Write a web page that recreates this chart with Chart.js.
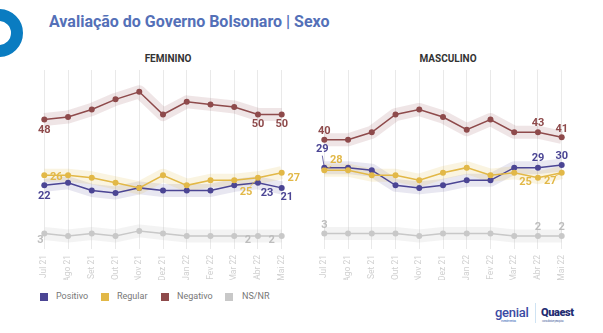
<!DOCTYPE html>
<html>
<head>
<meta charset="utf-8">
<script src="https://cdn.jsdelivr.net/npm/chart.js@4"></script>
<style>
  body { margin: 0; width: 603px; height: 333px; background: #fff; position: relative; overflow: hidden; font-family: Roboto, "Noto Sans", sans-serif; }
  .ring { position: absolute; left: -25px; top: 9px; width: 24px; height: 24px; border: 12px solid #0a7cc1; border-radius: 50%; }
  .title { position: absolute; left: 49px; top: 12px; font-size: 16px; font-weight: bold; color: #5470b8; white-space: nowrap; }
  .panel-title { position: absolute; top: 53px; width: 120px; text-align: center; font-size: 10px; font-weight: bold; color: #333; }
  .box { position: absolute; top: 60px; width: 285px; height: 220px; }
  .legend { position: absolute; top: 291px; left: 40px; font-size: 9px; color: #777; }
  .legend span { position: absolute; white-space: nowrap; top: 0; }
  .legend i { position: absolute; width: 8px; height: 8px; top: 2px; }
  .logo1 { position: absolute; left: 495px; top: 305px; color: #3b4aa3; font-size: 13px; font-weight: 500; letter-spacing: -0.3px; }
  .logo1 small { position: absolute; left: 6px; top: 14px; font-size: 3px; font-weight: normal; color: #4a74c0; white-space: nowrap; }
  .sep { position: absolute; left: 535px; top: 303px; width: 1px; height: 20px; background: #cfe3f3; }
  .logo2 { position: absolute; left: 541px; top: 306px; color: #1f2d72; font-size: 11px; font-weight: 900; letter-spacing: -0.4px; }
  .logo2 small { position: absolute; left: 1px; top: 13px; font-size: 3px; font-weight: normal; color: #6a7fb0; white-space: nowrap; }
</style>
</head>
<body>
<div class="ring"></div>
<div class="title">Avaliação do Governo Bolsonaro | Sexo</div>
<div class="panel-title" style="left:108px">FEMININO</div>
<div class="panel-title" style="left:388px">MASCULINO</div>
<div class="box" style="left:20px"><canvas id="fem"></canvas></div>
<div class="box" style="left:300px"><canvas id="masc"></canvas></div>
<div class="legend">
  <i style="left:0;background:#4b4594"></i><span style="left:16px">Positivo</span>
  <i style="left:61px;background:#e2b847"></i><span style="left:77px">Regular</span>
  <i style="left:121px;background:#8e4a4b"></i><span style="left:137px">Negativo</span>
  <i style="left:185px;background:#c8c8c8"></i><span style="left:202px">NS/NR</span>
</div>
<div class="logo1">genial<small>investimentos</small></div>
<div class="sep"></div>
<div class="logo2">Quaest<small>consultoria e pesquisa</small></div>
<script>
const meses = ["Jul 21", "Ago 21", "Set 21", "Out 21", "Nov 21", "Dez 21", "Jan 22", "Fev 22", "Mar 22", "Abr 22", "Mai 22"];

// Feminino
const femPositivo = [22, 23, 20, 19, 21, 20, 20, 20, 22, 23, 21];
const femRegular  = [26, 26, 25, 23, 21, 26, 22, 24, 24, 25, 27];
const femNegativo = [48, 49, 52, 56, 59, 50, 55, 54, 53, 50, 50];
const femNsnr     = [3, 2, 3, 2, 4, 3, 2, 2, 2, 2, 2];

// Masculino
const mascPositivo = [29, 29, 28, 22, 21, 22, 24, 24, 29, 29, 30];
const mascRegular  = [28, 28, 26, 26, 24, 27, 29, 26, 27, 25, 27];
const mascNegativo = [40, 40, 43, 50, 52, 49, 44, 48, 43, 43, 41];
const mascNsnr     = [3, 3, 3, 3, 2, 3, 3, 3, 2, 2, 2];

const cores = {
    positivo: ["#4b4594", "rgba(75, 69, 148, 0.13)"],
    regular: ["#e2b847", "rgba(226, 184, 71, 0.16)"],
    negativo: ["#8e4a4b", "rgba(142, 74, 75, 0.14)"],
    nsnr: ["#c8c8c8", "rgba(190, 190, 190, 0.18)"],
};

// which points carry a value label, and where it sits relative to the point
const rotulosFem = [
    { s: "negativo", i: 0, dx: 0, dy: 11 },
    { s: "negativo", i: 9, dx: 0, dy: 10 },
    { s: "negativo", i: 10, dx: 0, dy: 10 },
    { s: "regular", i: 0, dx: 12, dy: 2 },
    { s: "positivo", i: 0, dx: 0, dy: 10.5 },
    { s: "regular", i: 9, dx: -12, dy: 14, seta: true },
    { s: "positivo", i: 9, dx: 9, dy: 10 },
    { s: "positivo", i: 10, dx: 5, dy: 9 },
    { s: "regular", i: 10, dx: 12, dy: 6 },
    { s: "nsnr", i: 0, dx: -4, dy: 7 },
    { s: "nsnr", i: 9, dx: -10, dy: 4.5 },
    { s: "nsnr", i: 10, dx: -10, dy: 4.5 },
];
const rotulosMasc = [
    { s: "negativo", i: 0, dx: 0, dy: -9 },
    { s: "negativo", i: 9, dx: 0, dy: -9 },
    { s: "negativo", i: 10, dx: 0, dy: -8 },
    { s: "positivo", i: 0, dx: -2, dy: -18, seta: true },
    { s: "regular", i: 0, dx: 12, dy: -10, seta: true },
    { s: "positivo", i: 9, dx: 0, dy: -9 },
    { s: "positivo", i: 10, dx: 0, dy: -9 },
    { s: "regular", i: 9, dx: -12.5, dy: 4 },
    { s: "regular", i: 10, dx: -11.5, dy: 9, seta: true },
    { s: "nsnr", i: 0, dx: 0, dy: -8 },
    { s: "nsnr", i: 9, dx: 0, dy: -9 },
    { s: "nsnr", i: 10, dx: 0, dy: -9 },
];

const rotulosPlugin = {
    id: "rotulos",
    afterDatasetsDraw(chart, args, opts) {
        const ctx = chart.ctx;
        ctx.save();
        ctx.font = "bold 11px Roboto";
        ctx.textAlign = "center";
        ctx.textBaseline = "middle";
        opts.lista.forEach((r) => {
            const idx = chart.data.datasets.findIndex((d) => d.serie === r.s && !d.faixa);
            const ds = chart.data.datasets[idx];
            const pt = chart.getDatasetMeta(idx).data[r.i];
            const x = pt.x + r.dx, y = pt.y + r.dy;
            if (r.seta) {
                ctx.strokeStyle = ds.borderColor;
                ctx.lineWidth = 0.8;
                ctx.beginPath();
                ctx.moveTo(pt.x, pt.y);
                ctx.lineTo(x + (r.dx > 0 ? -5 : r.dx < -3 ? 4 : 0), y + (r.dy > 0 ? -5 : 6));
                ctx.stroke();
            }
            ctx.fillStyle = r.s === "nsnr" ? "#bdbdbd" : ds.borderColor;
            ctx.fillText(String(ds.data[r.i]), x, y);
        });
        ctx.restore();
    },
};

function montar(id, positivo, regular, negativo, nsnr, rotulos) {
    const series = [
        ["regular", regular, 0],
        ["positivo", positivo, 1],
        ["negativo", negativo, 2],
        ["nsnr", nsnr, 3],
    ];
    const datasets = [];
    series.forEach(([nome, dados, ordem]) => {
        datasets.push({
            serie: nome,
            data: dados,
            borderColor: cores[nome][0],
            backgroundColor: cores[nome][0],
            borderWidth: 1.5,
            pointRadius: 3,
            pointBorderWidth: 0,
            order: ordem,
        });
        datasets.push({
            serie: nome,
            faixa: true,
            data: dados,
            borderColor: cores[nome][1],
            borderWidth: 13,
            pointRadius: 0,
            borderJoinStyle: "round",
            order: 10 + ordem,
        });
    });
    return new Chart(document.getElementById(id), {
        type: "line",
        data: { labels: meses, datasets: datasets },
        options: {
            responsive: false,
            animation: false,
            layout: { padding: { left: 24.3, right: 23.3, top: 10, bottom: 0 } },
            plugins: {
                legend: { display: false },
                tooltip: { enabled: false },
                rotulos: { lista: rotulos },
            },
            scales: {
                x: {
                    offset: false,
                    border: { display: false },
                    grid: { color: "#e9e9e9", drawTicks: false },
                    ticks: {
                        minRotation: 90,
                        maxRotation: 90,
                        padding: 6,
                        color: "#d0d0d0",
                        font: { family: "Roboto", size: 8.5 },
                    },
                    afterFit(scale) { scale.height = 31; },
                },
                y: { display: false, min: -3.16, max: 67.6 },
            },
        },
        plugins: [rotulosPlugin],
    });
}

document.getElementById("fem").width = 285;
document.getElementById("fem").height = 220;
document.getElementById("masc").width = 285;
document.getElementById("masc").height = 220;

montar("fem", femPositivo, femRegular, femNegativo, femNsnr, rotulosFem);
montar("masc", mascPositivo, mascRegular, mascNegativo, mascNsnr, rotulosMasc);
</script>
</body>
</html>
